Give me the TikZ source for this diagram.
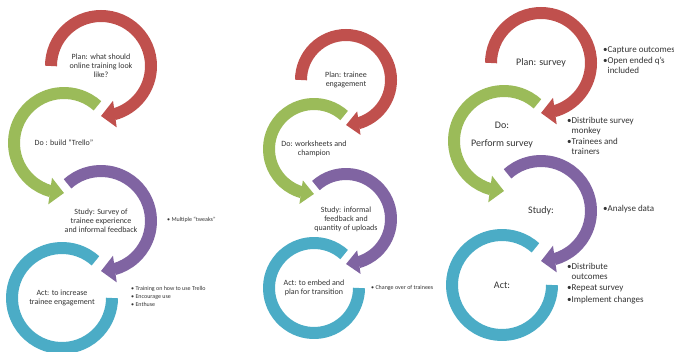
\documentclass[tikz,border=0pt]{standalone}
\usepackage{fontspec}
\setmainfont{Carlito}
\usetikzlibrary{arrows.meta}
\usetikzlibrary{bending}
\definecolor{planred}{HTML}{C0504D}
\definecolor{dogreen}{HTML}{9BBB59}
\definecolor{studypurple}{HTML}{8064A2}
\definecolor{actblue}{HTML}{4BACC6}
\tikzset{ring/.style = {line width=12pt}}
\tikzset{tip/.style = {-{Triangle[width=26pt, length=14pt]}}}
\tikzset{smalltip/.style = {-{Triangle[width=23pt, length=13pt]}}}
\tikzset{steptext/.style = {align=center, inner sep=0, text=black!80,
                            font=\fontsize{8}{9}\selectfont}}
\tikzset{bigtext/.style = {steptext, font=\fontsize{10}{12}\selectfont}}
\tikzset{notes/.style = {align=left, anchor=west, inner sep=0, text=black!80,
                         font=\fontsize{6}{8}\selectfont}}
\tikzset{bignotes/.style = {notes, font=\fontsize{9}{10}\selectfont}}

\begin{document}
\begin{tikzpicture}[x=1pt, y=1pt]
    \useasboundingbox (0, 0) rectangle (674, 351);

    % first cycle
    \node [steptext] (plan1) at (101, 285) {Plan: what should\\online training look\\like?};
    \node [steptext] (do1) at (64, 208) {Do : build “Trello”};
    \node [steptext] (study1) at (101, 130) {Study: Survey of\\trainee experience\\and informal feedback};
    \node [steptext] (act1) at (62, 53) {Act: to increase\\trainee engagement};

    \draw [ring, planred, tip] ([shift={(180:50)}] plan1.center) arc [start angle=180, end angle=-90, radius=50];
    \draw [ring, dogreen, tip] ([shift={(48:50)}] do1.center) arc [start angle=48, end angle=270, radius=50];
    \draw [ring, studypurple, tip] ([shift={(132:50)}] study1.center) arc [start angle=132, end angle=-90, radius=50];
    \draw [ring, actblue] ([shift={(48:50)}] act1.center) arc [start angle=48, end angle=360, radius=50];

    \node [notes] (tweaks1) at (167, 131) {• Multiple “tweaks”};
    \node [notes] (train1) at (131, 55) {• Training on how to use Trello\\• Encourage use\\• Enthuse};

    % second cycle
    \node [steptext] (plan2) at (346, 271) {Plan: trainee\\engagement};
    \node [steptext] (do2) at (314, 202) {Do: worksheets and\\champion};
    \node [steptext] (study2) at (346, 132) {Study: informal\\feedback and\\quantity of uploads};
    \node [steptext] (act2) at (314, 63) {Act: to embed and\\plan for transition};

    \draw [ring, planred, smalltip] ([shift={(180:45)}] plan2.center) arc [start angle=180, end angle=-90, radius=45];
    \draw [ring, dogreen, smalltip] ([shift={(48:45)}] do2.center) arc [start angle=48, end angle=270, radius=45];
    \draw [ring, studypurple, smalltip] ([shift={(132:45)}] study2.center) arc [start angle=132, end angle=-90, radius=45];
    \draw [ring, actblue] ([shift={(48:45)}] act2.center) arc [start angle=48, end angle=360, radius=45];

    \node [notes] (change2) at (371, 63) {• Change over of trainees};

    % third cycle
    \coordinate (ring3) at (504, 210);
    \node [bigtext] (plan3) at (541, 288) {Plan: survey};
    \node [bigtext] (do3) at (502, 215.5) {Do:\\[6pt]Perform survey};
    \node [bigtext] (study3) at (541, 140) {Study:};
    \node [bigtext] (act3) at (502, 66) {Act:};

    \draw [ring, planred, tip] ([shift={(180:50)}] plan3.center) arc [start angle=180, end angle=-90, radius=50];
    \draw [ring, dogreen, tip] ([shift={(48:50)}] ring3) arc [start angle=48, end angle=270, radius=50];
    \draw [ring, studypurple, tip] ([shift={(132:50)}] study3.center) arc [start angle=132, end angle=-90, radius=50];
    \draw [ring, actblue] ([shift={(48:50)}] act3.center) arc [start angle=48, end angle=360, radius=50];

    \node [bignotes] (capture3) at (603, 290.5) {•Capture outcomes\\[1pt]•Open ended q’s\\\phantom{•}included};
    \node [bignotes] (survey3) at (567, 215) {•Distribute survey\\\phantom{•}monkey\\[1.5pt]•Trainees and\\\phantom{•}trainers};
    \node [bignotes] (data3) at (603, 142) {•Analyse data};
    \node [bignotes] (outcome3) at (567, 67.5) {•Distribute\\\phantom{•}outcomes\\[1.5pt]•Repeat survey\\[1.5pt]•Implement changes};
\end{tikzpicture}
\end{document}
